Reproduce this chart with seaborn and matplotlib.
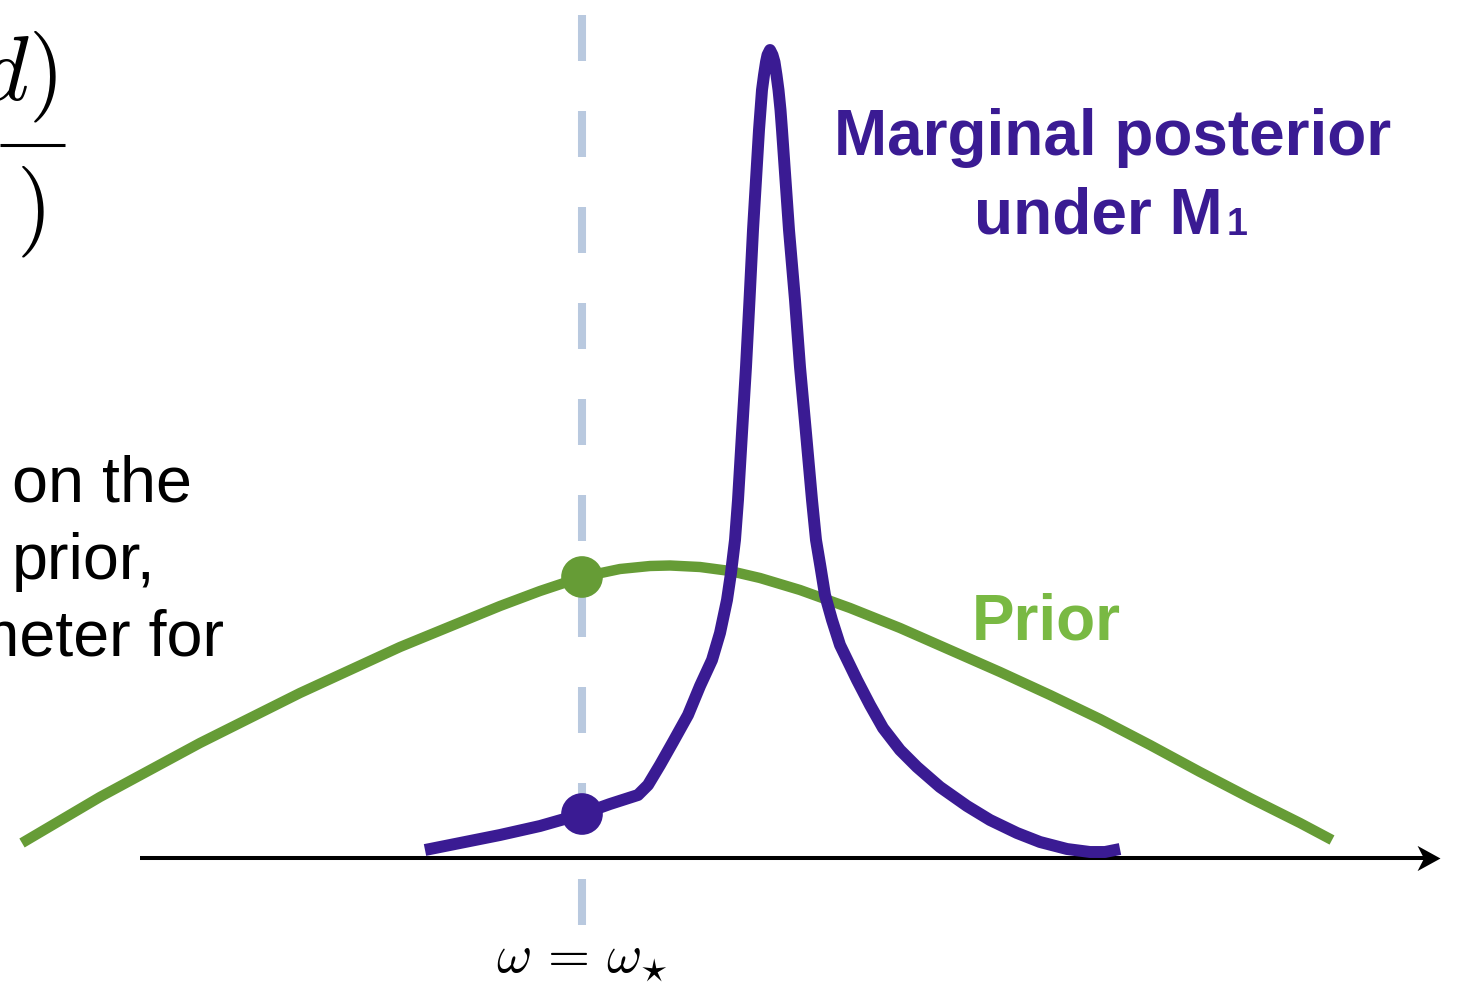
import numpy as np
import pandas as pd
import matplotlib
matplotlib.use("Agg")
import matplotlib.pyplot as plt
from matplotlib.path import Path
import seaborn as sns

# Parameter axis (omega measured from omega_star) and curve heights above the axis
prior_omega = [-560, -482, -382, -282, -182, -82, -42, 0, 38, 68, 88, 118, 148,
               178, 218, 268, 318, 368, 418, 468, 518, 568, 618, 668, 718, 750]
prior_density = [15, 61, 115, 165, 211, 252, 267, 281, 289, 292, 292.5, 291,
                 287, 280, 268, 250, 230, 208, 186, 163, 139, 113, 86, 60, 35, 18]

posterior_omega = [-157, -122, -82, -42, 0, 28, 56, 66, 78, 91, 106, 118, 130,
                   138, 145, 149, 153, 156, 160, 164, 167.5, 171, 174, 177, 178.5,
                   180, 182, 184, 185.5, 188, 190.5, 192.5, 194.5, 196.5, 198.5,
                   200, 203.5, 207, 213, 218, 224, 230, 234, 238.5, 243, 250, 258,
                   275, 288, 301, 318, 335, 358, 385, 408, 435, 458, 485, 508, 523,
                   538]
posterior_density = [8, 15, 23, 32, 44, 54, 63, 73, 93, 116, 143, 172, 198, 225,
                     258, 285, 318, 358, 425, 491, 558, 628, 678, 728, 748, 768,
                     783, 796, 803, 808, 803, 796, 783, 768, 748, 728, 678, 628,
                     558, 491, 425, 358, 318, 291, 263, 238, 213, 178, 153, 130,
                     108, 91, 71, 52, 38, 25, 16, 9, 6, 6, 9]

omega_star = 0
prior_at_star = 281
posterior_at_star = 44

PURPLE = "#3a1b93"
GREEN = "#669c36"
PRIOR_TEXT = "#79b943"
DASH = "#b9c9df"

sns.set_theme(style="white")
plt.rcParams["font.family"] = ["Liberation Sans", "DejaVu Sans"]
plt.rcParams["lines.scale_dashes"] = False
plt.rcParams["mathtext.fontset"] = "cm"

fig = plt.figure(figsize=(14.57, 9.84), dpi=100)
ax = fig.add_axes([0, 0, 1, 1])
ax.set_xlim(-582, 875)
ax.set_ylim(-126, 858)
ax.axis("off")

# omega = omega_star reference line
ax.plot([omega_star, omega_star], [843, -67], color=DASH, lw=5.8,
        linestyle=(0, (46 * 0.72, 50 * 0.72)), dash_capstyle="butt", zorder=1)

# horizontal parameter axis with arrow head
ax.plot([-442, 850], [0, 0], color="black", lw=2.9, solid_capstyle="butt", zorder=2)
head = Path([(0, 0), (-1, 0.55), (-0.72, 0), (-1, -0.55), (0, 0)],
            [Path.MOVETO, Path.LINETO, Path.LINETO, Path.LINETO, Path.CLOSEPOLY])
ax.plot([858], [0], marker=head, markersize=33, color="black", markeredgewidth=0, zorder=2)

prior_df = pd.DataFrame({"omega": prior_omega, "density": prior_density})
post_df = pd.DataFrame({"omega": posterior_omega, "density": posterior_density})

sns.lineplot(data=prior_df, x="omega", y="density", ax=ax, color=GREEN, lw=7.5,
             sort=False, estimator=None, zorder=3,
             solid_capstyle="butt", solid_joinstyle="round")
sns.lineplot(data=post_df, x="omega", y="density", ax=ax, color=PURPLE, lw=8.6,
             sort=False, estimator=None, zorder=4,
             solid_capstyle="butt", solid_joinstyle="round")

dots = pd.DataFrame({"omega": [omega_star, omega_star],
                     "density": [prior_at_star, posterior_at_star],
                     "which": ["prior", "posterior"]})
sns.scatterplot(data=dots, x="omega", y="density", hue="which",
                palette={"prior": GREEN, "posterior": PURPLE},
                s=30 ** 2, linewidth=0, legend=False, ax=ax, zorder=5)
ax.set_xlabel("")
ax.set_ylabel("")

# Curve labels
ax.text(1113 - 582, 858 - 155, "Marginal posterior", ha="center", va="baseline",
        fontsize=46, fontweight="bold", color=PURPLE)
ax.text(1223 - 582, 858 - 233, "under M", ha="right", va="baseline",
        fontsize=46, fontweight="bold", color=PURPLE)
ax.text(1227 - 582, 858 - 235, "1", ha="left", va="baseline",
        fontsize=27, fontweight="bold", color=PURPLE)
ax.text(972 - 582, 858 - 640, "Prior", ha="left", va="baseline",
        fontsize=46, fontweight="bold", color=PRIOR_TEXT)

# Point label under the axis
ax.text(582 - 582, 858 - 972, r"$\omega\,=\,\omega_{\star}$", ha="center",
        va="baseline", fontsize=39, color="black")

# Savage-Dickey ratio at the top left
ax.text(57 - 582, 858 - 100, r"$p(\omega_\star \mid d)$", ha="right",
        va="baseline", fontsize=66, color="black")
ax.plot([-582, 65 - 582], [858 - 145, 858 - 145], color="black", lw=2.2,
        solid_capstyle="butt")
ax.text(45 - 582, 858 - 235, r"$p(\omega_\star)$", ha="right",
        va="baseline", fontsize=66, color="black")

# Body text running in from the left
ax.text(12 - 582, 858 - 502, "on the", ha="left", va="baseline",
        fontsize=46.5, color="black")
ax.text(12 - 582, 858 - 579, "prior,", ha="left", va="baseline",
        fontsize=46.5, color="black")
ax.text(224 - 582, 858 - 656, "parameter for", ha="right", va="baseline",
        fontsize=46.5, color="black")

fig.savefig("out.png", dpi=100)
